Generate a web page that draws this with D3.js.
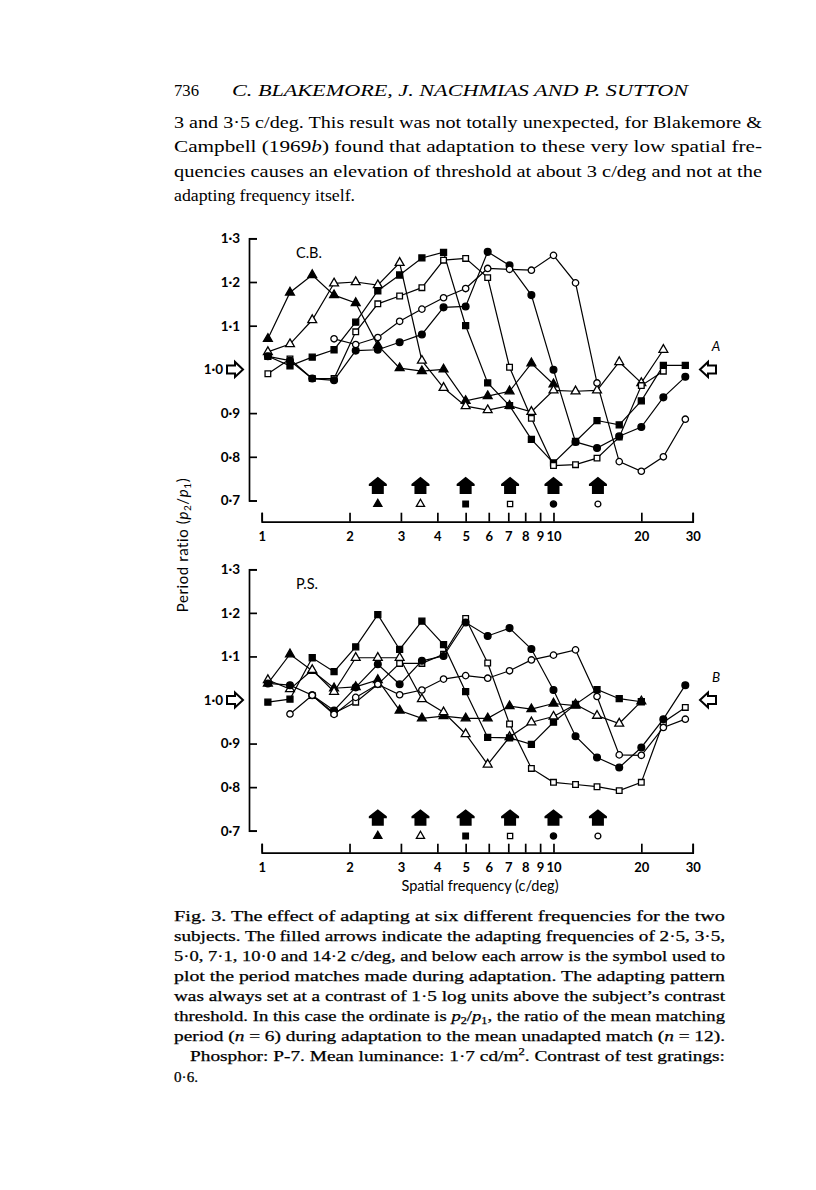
<!DOCTYPE html>
<html><head><meta charset="utf-8">
<script src="https://cdn.jsdelivr.net/npm/d3@7/dist/d3.min.js"></script>
<style>body{margin:0;background:#fff}svg{display:block}</style>
</head><body>
<svg id="c" width="816" height="1190"></svg>
<script>
// ---------- data ----------
const freqs = [1.05,1.25,1.49,1.77,2.1,2.5,2.97,3.54,4.2,5.0,5.95,7.07,8.4,10,11.9,14.1,16.8,20,23.8,28.3];
const xTicks = [1,2,3,4,5,6,7,8,9,10,20,30];
const yTicks = [0.7,0.8,0.9,1.0,1.1,1.2,1.3];
const adaptFreqs = [2.5,3.5,5.0,7.1,10,14.2];
const adaptSymbols = ["filledTri","openTri","filledSq","openSq","filledCirc","openCirc"];

// subject C.B.
const cbFilledTri  = [1.07,1.176,1.216,1.17,1.152,1.055,1.003,0.996,1.0,0.928,0.939,0.95,1.014,0.966,null,null,null,null,null,null];
const cbOpenTri    = [1.04,1.058,1.113,1.197,1.2,1.193,1.244,1.02,0.958,0.916,0.907,0.917,0.903,0.952,0.95,0.952,1.017,0.969,1.045,null];
const cbFilledSq   = [1.03,1.008,1.028,1.045,1.108,1.18,1.216,1.255,1.268,1.1,0.969,0.917,0.84,0.786,0.835,0.883,0.873,0.928,1.009,1.009];
const cbOpenSq     = [0.99,1.024,0.979,0.979,1.086,1.15,1.168,1.187,1.25,1.254,1.21,1.005,0.888,0.78,0.782,0.797,0.845,0.963,0.996,null];
const cbFilledCirc = [1.03,1.02,0.979,0.975,1.043,1.045,1.062,1.08,1.142,1.144,1.269,1.238,1.17,0.999,0.834,0.82,0.847,0.868,0.936,0.983];
const cbOpenCirc   = [null,null,null,1.07,1.057,1.073,1.11,1.138,1.164,1.185,1.231,1.229,1.227,1.261,1.198,0.969,0.789,0.767,0.8,0.886];

// subject P.S.
const psFilledTri  = [1.038,1.105,1.067,1.027,1.03,1.046,0.976,0.958,0.963,0.958,0.958,0.986,0.979,0.992,0.987,null,null,null,null,null];
const psOpenTri    = [1.046,1.025,1.069,1.019,1.097,1.097,1.097,1.002,0.972,0.922,0.852,0.915,0.949,0.962,0.99,0.964,0.946,0.997,null,null];
const psFilledSq   = [0.995,1.002,1.097,1.065,1.122,1.196,1.116,1.181,1.127,1.019,0.914,0.913,0.898,0.949,0.99,1.024,1.003,0.996,null,null];
const psOpenSq     = [null,null,1.01,0.97,0.995,1.036,1.084,1.084,1.105,1.187,1.085,0.945,0.843,0.811,0.806,0.801,0.792,0.811,0.949,0.983];
const psFilledCirc = [1.038,1.034,1.011,0.976,1.029,1.082,1.036,1.09,1.101,1.178,1.147,1.165,1.117,1.023,0.917,0.868,0.845,0.891,0.956,1.034];
const psOpenCirc   = [null,0.968,1.011,0.967,1.006,1.036,1.012,1.023,1.048,1.056,1.05,1.067,1.092,1.103,1.115,1.008,0.874,0.873,0.937,0.956];

// ---------- layout ----------
const svg = d3.select("#c");
const chartFont = "Lato, 'Open Sans', sans-serif";
const serif = "'Liberation Serif', 'DejaVu Serif', serif";
const x = d3.scaleLog().domain([1,30]).range([261.7,692.7]);
const axisX = 249;

const panels = [
  {name:"C.B.", letter:"A", yRange:[500.5,238.3], axisY:521.7, arrowTop:476.7, arrowBot:494, symY:504,
   series:{filledTri:cbFilledTri, openTri:cbOpenTri, filledSq:cbFilledSq, openSq:cbOpenSq, filledCirc:cbFilledCirc, openCirc:cbOpenCirc}},
  {name:"P.S.", letter:"B", yRange:[830.7,569.3], axisY:852.7, arrowTop:809.3, arrowBot:825.7, symY:836,
   series:{filledTri:psFilledTri, openTri:psOpenTri, filledSq:psFilledSq, openSq:psOpenSq, filledCirc:psFilledCirc, openCirc:psOpenCirc}}
];

const symInfo = {
  filledTri:{type:d3.symbolTriangle, size:34, fill:"#000"},
  openTri:{type:d3.symbolTriangle, size:34, fill:"#fff"},
  filledSq:{type:d3.symbolSquare, size:36, fill:"#000"},
  openSq:{type:d3.symbolSquare, size:32, fill:"#fff"},
  filledCirc:{type:d3.symbolCircle, size:36, fill:"#000"},
  openCirc:{type:d3.symbolCircle, size:32, fill:"#fff"}
};
const fmt = v => d3.format(".1f")(v).replace(".", "\u00b7");

panels.forEach(p => {
  const y = d3.scaleLinear().domain([0.7,1.3]).range(p.yRange);
  const g = svg.append("g");

  // y axis
  const ya = g.append("g").attr("transform",`translate(${axisX},0)`)
    .call(d3.axisLeft(y).tickValues(yTicks).tickFormat(fmt).tickSizeInner(-8).tickSizeOuter(-8).tickPadding(9));
  ya.select(".domain").attr("stroke","#000").attr("stroke-width",1.7);
  ya.selectAll(".tick line").attr("stroke","#000").attr("stroke-width",1.7);
  ya.selectAll(".tick text").attr("font-family",chartFont).attr("font-weight","bold").attr("font-size",13.5).attr("fill","#000");
  ya.selectAll(".tick").filter(d => d === 1.0).each(function(){
    d3.select(this).select("line").remove();
    d3.select(this).select("text").attr("x",-26);
  });

  // open arrows at 1.0
  const y1 = y(1.0);
  const x0 = 227;
  g.append("path").attr("d",`M${x0},${y1-4}H${x0+8}V${y1-7.5}L${x0+16},${y1}L${x0+8},${y1+7.5}V${y1+4}H${x0}Z`)
    .attr("fill","#fff").attr("stroke","#000").attr("stroke-width",2).attr("stroke-linejoin","miter");
  const xr = 700;
  g.append("path").attr("d",`M${xr},${y1}L${xr+8},${y1-7.5}V${y1-4}H${xr+16}V${y1+4}H${xr+8}V${y1+7.5}Z`)
    .attr("fill","#fff").attr("stroke","#000").attr("stroke-width",2);
  g.append("text").attr("x",716).attr("y",y1-18).attr("text-anchor","middle")
    .attr("font-family",chartFont).attr("font-style","italic").attr("font-size",13.5).text(p.letter);

  // panel label
  g.append("text").attr("x",296).attr("y",p.yRange[1]+20).attr("font-family",chartFont)
    .attr("font-size",14.5).text(p.name);

  // x axis
  const xa = g.append("g").attr("transform",`translate(0,${p.axisY})`)
    .call(d3.axisBottom(x).tickValues(xTicks).tickFormat(d3.format("d")).tickSizeInner(-9).tickSizeOuter(-9).tickPadding(10));
  xa.select(".domain").attr("stroke","#000").attr("stroke-width",1.7);
  xa.selectAll(".tick line").attr("stroke","#000").attr("stroke-width",1.7);
  xa.selectAll(".tick text").attr("font-family",chartFont).attr("font-weight","bold").attr("font-size",13).attr("fill","#000");

  // data lines
  const line = d3.line().defined(d => d.v != null).x(d => x(d.f)).y(d => y(d.v));
  const keys = Object.keys(p.series);
  keys.forEach(k => {
    const pts = freqs.map((f,i) => ({f, v:p.series[k][i]}));
    g.append("path").datum(pts).attr("d",line).attr("fill","none").attr("stroke","#000").attr("stroke-width",1.2);
  });
  keys.forEach(k => {
    const s = symInfo[k];
    const pts = freqs.map((f,i) => ({f, v:p.series[k][i]})).filter(d => d.v != null);
    g.selectAll(null).data(pts).enter().append("path")
      .attr("d", d3.symbol().type(s.type).size(s.size))
      .attr("transform", d => `translate(${x(d.f)},${y(d.v)})`)
      .attr("fill", s.fill).attr("stroke","#000").attr("stroke-width",1.3);
  });

  // adapting arrows and symbols
  adaptFreqs.forEach((f,i) => {
    const cx = x(f), t = p.arrowTop, b = p.arrowBot, sh = t + (b-t)*0.42;
    g.append("path").attr("d",`M${cx},${t}L${cx+9},${sh}V${sh+2}H${cx+6}V${b}H${cx-6}V${sh+2}H${cx-9}V${sh}Z`).attr("fill","#000");
    const s = symInfo[adaptSymbols[i]];
    g.append("path").attr("d", d3.symbol().type(s.type).size(s.size*0.85))
      .attr("transform",`translate(${cx},${p.symY})`).attr("fill",s.fill).attr("stroke","#000").attr("stroke-width",1.3);
  });
});

// axis titles
svg.append("text").attr("x",480).attr("y",891).attr("text-anchor","middle")
  .attr("font-family",chartFont).attr("font-size",14.5).text("Spatial frequency (c/deg)");
const yl = svg.append("text").attr("transform","translate(188,545) rotate(-90)").attr("text-anchor","middle")
  .attr("font-family",chartFont).attr("font-size",15).attr("letter-spacing",0.6);
yl.append("tspan").text("Period ratio (");
yl.append("tspan").attr("font-style","italic").text("p");
yl.append("tspan").attr("font-size",10).attr("dy",3).text("2");
yl.append("tspan").attr("dy",-3).text("/");
yl.append("tspan").attr("font-style","italic").text("p");
yl.append("tspan").attr("font-size",10).attr("dy",3).text("1");
yl.append("tspan").attr("dy",-3).text(")");

// ---------- page text ----------
function textLine(xp, yp, parts, width, size, style) {
  const t = svg.append("text").attr("x",xp).attr("y",yp).attr("font-family",serif).attr("font-size",size)
    .attr("fill","#000");
  if (style) t.attr("font-style",style);
  if (width) t.attr("textLength",width).attr("lengthAdjust","spacingAndGlyphs");
  parts.forEach(pt => {
    if (typeof pt === "string") t.append("tspan").text(pt);
    else {
      const s = t.append("tspan").text(pt.t);
      if (pt.i) s.attr("font-style","italic");
      if (pt.sub) s.attr("font-size",size*0.65).attr("dy",3);
      if (pt.sup) s.attr("font-size",size*0.65).attr("dy",-6);
      if (pt.back) s.attr("dy",pt.back);
    }
  });
  return t;
}
textLine(174,96,["736"],25,17);
textLine(232,96,["C. BLAKEMORE, J. NACHMIAS AND P. SUTTON"],456,17,"italic");
textLine(174,128,["3 and 3\u00b75 c/deg. This result was not totally unexpected, for Blakemore &"],588,17);
textLine(174,152,["Campbell (1969",{t:"b",i:true},") found that adaptation to these very low spatial fre-"],588,17);
textLine(174,177,["quencies causes an elevation of threshold at about 3 c/deg and not at the"],588,17);
textLine(174,201,["adapting frequency itself."],181,17);

const capLines = [
  [174,921,["Fig. 3. The effect of adapting at six different frequencies for the two"],551],
  [174,941,["subjects. The filled arrows indicate the adapting frequencies of 2\u00b75, 3\u00b75,"],551],
  [174,961,["5\u00b70, 7\u00b71, 10\u00b70 and 14\u00b72 c/deg, and below each arrow is the symbol used to"],551],
  [174,981,["plot the period matches made during adaptation. The adapting pattern"],551],
  [174,1001,["was always set at a contrast of 1\u00b75 log units above the subject\u2019s contrast"],551],
  [174,1021,["threshold. In this case the ordinate is ",{t:"p",i:true},{t:"2",sub:true},{t:"/",back:-3},{t:"p",i:true},{t:"1",sub:true},{t:", the ratio of the mean matching",back:-3}],551],
  [174,1041,["period (",{t:"n",i:true}," = 6) during adaptation to the mean unadapted match (",{t:"n",i:true}," = 12)."],551],
  [190,1061,["Phosphor: P-7. Mean luminance: 1\u00b77 cd/m",{t:"2",sup:true},{t:". Contrast of test gratings:",back:6}],535],
  [174,1082,["0\u00b76."],24]
];
capLines.forEach(c => textLine(c[0],c[1],c[2],c[3],15).attr("stroke","#000").attr("stroke-width",0.25));
</script>
</body></html>
